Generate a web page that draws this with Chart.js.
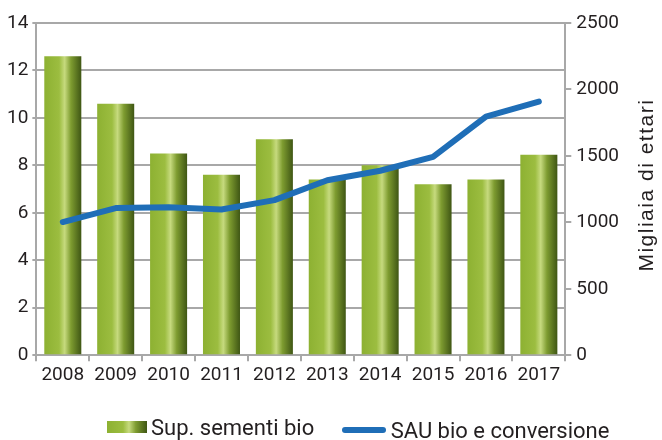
<!DOCTYPE html>
<html lang="it">
<head>
<meta charset="utf-8">
<title>Sementi bio e SAU bio</title>
<script src="https://cdn.jsdelivr.net/npm/chart.js@4.4.1/dist/chart.umd.min.js"></script>
<style>
    html, body { margin: 0; padding: 0; background: #fff; }
    #wrap { position: relative; width: 662px; height: 440px; }
    #legend {
        position: absolute; left: 107px; top: 413px;
        font-family: Roboto, "Liberation Sans", sans-serif;
        font-size: 22px; color: #231F20; white-space: nowrap;
    }
    #legend span.item { display: inline-flex; align-items: center; margin-right: 22px; }
    .box-bar {
        display: inline-block; width: 40px; height: 12px; margin-right: 4px;
        background: linear-gradient(to right, #8DB132 0%, #9CBD40 40%, #C6DA7E 55%, #7E9C30 72%, #3F5614 100%);
    }
    .box-line {
        display: inline-block; width: 44px; height: 6px; border-radius: 3px; margin-right: 5px;
        background: #1F6EB7;
    }
</style>
</head>
<body>
<div id="wrap">
    <canvas id="chart" width="662" height="440"></canvas>
    <div id="legend">
        <span class="item"><span class="box-bar"></span>Sup. sementi bio</span>
        <span class="item"><span class="box-line"></span>SAU bio e conversione</span>
    </div>
</div>
<script>
// Dati
const anni = ['2008', '2009', '2010', '2011', '2012', '2013', '2014', '2015', '2016', '2017'];
const supSementi = [12.6, 10.6, 8.5, 7.6, 9.1, 7.4, 8.0, 7.2, 7.4, 8.45];
const sauBio = [1002, 1107, 1114, 1097, 1167, 1317, 1388, 1493, 1796, 1909];
const tickSinistra = [0, 2, 4, 6, 8, 10, 12, 14];
const tickDestra = [0, 500, 1000, 1500, 2000, 2500];
const titoloDestra = 'Migliaia di ettari';

const fontTick = { family: 'Roboto, "Liberation Sans", sans-serif', size: 19 };
const grigio = '#A8A8A8';
const BAR_PCT = 0.7;

// Gradiente orizzontale per ogni barra
function gradienteBarra(ctx) {
    const chart = ctx.chart;
    const xScale = chart.scales.x;
    if (!chart.chartArea || !xScale || ctx.dataIndex === undefined) return '#8DB132';
    const cx = xScale.getPixelForValue(ctx.dataIndex);
    const w = (xScale.width / anni.length) * BAR_PCT;
    const g = chart.ctx.createLinearGradient(cx - w / 2, 0, cx + w / 2, 0);
    g.addColorStop(0, '#8DB132');
    g.addColorStop(0.4, '#9CBD40');
    g.addColorStop(0.55, '#C6DA7E');
    g.addColorStop(0.72, '#7E9C30');
    g.addColorStop(1, '#3F5614');
    return g;
}

// Titolo asse destro, letto dal basso verso l'alto
const titoloAsseDestro = {
    id: 'titoloAsseDestro',
    afterDraw(chart) {
        const c = chart.ctx;
        const area = chart.chartArea;
        c.save();
        c.translate(chart.width - 15, (area.top + area.bottom) / 2 - 4);
        c.rotate(-Math.PI / 2);
        c.font = '21px "Liberation Sans", Arial, sans-serif';
        c.letterSpacing = '1.5px';
        c.fillStyle = '#231F20';
        c.textAlign = 'center';
        c.textBaseline = 'middle';
        c.fillText(titoloDestra, 0, 0);
        c.restore();
    }
};

new Chart(document.getElementById('chart'), {
    data: {
        labels: anni,
        datasets: [
            {
                type: 'line',
                label: 'SAU bio e conversione',
                data: sauBio,
                yAxisID: 'y1',
                borderColor: '#1F6EB7',
                borderWidth: 6,
                borderCapStyle: 'round',
                borderJoinStyle: 'round',
                pointRadius: 0,
                tension: 0,
                order: 0
            },
            {
                type: 'bar',
                label: 'Sup. sementi bio',
                data: supSementi,
                yAxisID: 'y',
                backgroundColor: gradienteBarra,
                barPercentage: BAR_PCT,
                categoryPercentage: 1,
                order: 1
            }
        ]
    },
    options: {
        responsive: false,
        animation: false,
        layout: { padding: { left: 3, right: 38, top: 23, bottom: 50 } },
        plugins: { legend: { display: false }, tooltip: { enabled: false } },
        scales: {
            x: {
                offset: true,
                grid: { offset: true, drawOnChartArea: false, color: grigio, lineWidth: 2, tickLength: 6 },
                border: { color: grigio, width: 2 },
                ticks: { color: '#231F20', font: fontTick, padding: 3, maxRotation: 0, autoSkip: false }
            },
            y: {
                position: 'left',
                min: 0, max: 14,
                afterBuildTicks: axis => { axis.ticks = tickSinistra.map(v => ({ value: v })); },
                grid: { color: grigio, lineWidth: 2, tickLength: 4 },
                border: { color: grigio, width: 2 },
                ticks: { color: '#231F20', font: fontTick, padding: 4, callback: v => String(v) }
            },
            y1: {
                position: 'right',
                min: 0, max: 2500,
                afterBuildTicks: axis => { axis.ticks = tickDestra.map(v => ({ value: v })); },
                grid: { drawOnChartArea: false, color: grigio, lineWidth: 2, tickLength: 6 },
                border: { color: grigio, width: 2 },
                ticks: { color: '#231F20', font: fontTick, padding: 5, callback: v => String(v) }
            }
        }
    },
    plugins: [titoloAsseDestro]
});
</script>
</body>
</html>
